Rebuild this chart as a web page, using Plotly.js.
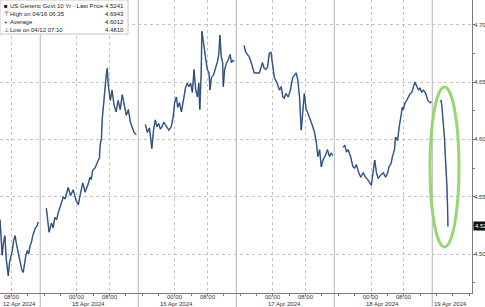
<!DOCTYPE html>
<html>
<head>
<meta charset="utf-8">
<script src="https://cdn.plot.ly/plotly-3.0.1.min.js"></script>
<style>html,body{margin:0;padding:0;background:#fff;}#chart{width:485px;height:307px;}</style>
</head>
<body>
<div id="chart"></div>
<script>
// ---- Data (US Generic Govt 10 Yr, intraday) ----
const apr12Time = ['2024-04-12 05:10','2024-04-12 05:20','2024-04-12 05:40','2024-04-12 06:00','2024-04-12 06:20','2024-04-12 06:40','2024-04-12 07:10','2024-04-12 07:30','2024-04-12 07:50','2024-04-12 08:10','2024-04-12 08:30','2024-04-12 08:50','2024-04-12 09:10','2024-04-12 09:30','2024-04-12 09:50','2024-04-12 10:10','2024-04-12 10:30','2024-04-12 10:50','2024-04-12 11:10','2024-04-12 11:30','2024-04-12 11:50','2024-04-12 12:10','2024-04-12 12:30','2024-04-12 12:50','2024-04-12 13:10','2024-04-12 13:30','2024-04-12 13:50','2024-04-12 14:10','2024-04-12 14:30'];
const apr12Yield = [4.530,4.521,4.499,4.510,4.516,4.496,4.481,4.493,4.498,4.503,4.512,4.516,4.509,4.503,4.496,4.491,4.486,4.484,4.493,4.499,4.503,4.500,4.507,4.510,4.516,4.519,4.523,4.524,4.528];

const apr15Time = ['2024-04-14 16:30','2024-04-14 16:50','2024-04-14 17:10','2024-04-14 17:45','2024-04-14 18:10','2024-04-14 18:35','2024-04-14 19:00','2024-04-14 19:25','2024-04-14 19:50','2024-04-14 20:15','2024-04-14 20:40','2024-04-14 21:05','2024-04-14 21:30','2024-04-14 21:50','2024-04-14 22:25','2024-04-14 23:05','2024-04-14 23:45','2024-04-15 00:20','2024-04-15 00:45','2024-04-15 01:05','2024-04-15 01:25','2024-04-15 02:00','2024-04-15 02:30','2024-04-15 02:50','2024-04-15 03:10','2024-04-15 03:30','2024-04-15 03:50','2024-04-15 04:25','2024-04-15 05:00','2024-04-15 05:30','2024-04-15 05:40','2024-04-15 06:00','2024-04-15 06:10','2024-04-15 06:40','2024-04-15 07:10','2024-04-15 07:25','2024-04-15 07:40','2024-04-15 08:10','2024-04-15 08:35','2024-04-15 09:05','2024-04-15 09:35','2024-04-15 10:05','2024-04-15 10:35','2024-04-15 11:05','2024-04-15 11:35','2024-04-15 12:05','2024-04-15 12:35','2024-04-15 13:05','2024-04-15 13:35','2024-04-15 14:00','2024-04-15 14:30'];
const apr15Yield = [4.540,4.528,4.519,4.527,4.523,4.532,4.530,4.536,4.541,4.547,4.550,4.548,4.554,4.558,4.551,4.556,4.547,4.543,4.551,4.556,4.562,4.554,4.558,4.562,4.567,4.565,4.573,4.575,4.580,4.584,4.595,4.601,4.617,4.639,4.656,4.662,4.647,4.634,4.643,4.630,4.624,4.634,4.626,4.639,4.630,4.621,4.626,4.615,4.610,4.606,4.604];

const apr16Time = ['2024-04-15 16:45','2024-04-15 17:15','2024-04-15 17:45','2024-04-15 18:20','2024-04-15 18:45','2024-04-15 19:10','2024-04-15 19:35','2024-04-15 20:00','2024-04-15 20:25','2024-04-15 20:50','2024-04-15 21:15','2024-04-15 21:40','2024-04-15 22:05','2024-04-15 22:30','2024-04-15 23:05','2024-04-15 23:35','2024-04-15 23:55','2024-04-16 00:20','2024-04-16 00:40','2024-04-16 01:05','2024-04-16 01:35','2024-04-16 02:10','2024-04-16 02:35','2024-04-16 03:00','2024-04-16 03:25','2024-04-16 03:50','2024-04-16 04:15','2024-04-16 04:40','2024-04-16 05:05','2024-04-16 05:30','2024-04-16 05:50','2024-04-16 06:05','2024-04-16 06:25','2024-04-16 06:35','2024-04-16 07:00','2024-04-16 07:15','2024-04-16 07:35','2024-04-16 07:55','2024-04-16 08:20','2024-04-16 08:35','2024-04-16 08:55','2024-04-16 09:25','2024-04-16 10:00','2024-04-16 10:25','2024-04-16 10:45','2024-04-16 11:00','2024-04-16 11:20','2024-04-16 11:40','2024-04-16 11:50','2024-04-16 12:10','2024-04-16 12:40','2024-04-16 13:00','2024-04-16 13:30','2024-04-16 13:50','2024-04-16 14:10','2024-04-16 14:30'];
const apr16Yield = [4.613,4.606,4.610,4.592,4.608,4.617,4.611,4.614,4.609,4.611,4.615,4.613,4.610,4.608,4.611,4.620,4.632,4.637,4.628,4.632,4.624,4.637,4.645,4.649,4.646,4.649,4.641,4.661,4.643,4.637,4.649,4.626,4.658,4.6943,4.682,4.675,4.669,4.661,4.658,4.643,4.654,4.656,4.663,4.668,4.675,4.691,4.672,4.667,4.646,4.661,4.667,4.669,4.674,4.667,4.669,4.668];

const apr17Time = ['2024-04-16 16:55','2024-04-16 17:20','2024-04-16 17:45','2024-04-16 18:10','2024-04-16 18:35','2024-04-16 19:00','2024-04-16 19:25','2024-04-16 20:05','2024-04-16 20:40','2024-04-16 21:00','2024-04-16 21:25','2024-04-16 21:50','2024-04-16 22:15','2024-04-16 22:40','2024-04-16 23:05','2024-04-16 23:30','2024-04-16 23:55','2024-04-17 00:20','2024-04-17 01:00','2024-04-17 01:35','2024-04-17 02:00','2024-04-17 02:25','2024-04-17 02:45','2024-04-17 03:10','2024-04-17 03:45','2024-04-17 04:15','2024-04-17 04:50','2024-04-17 05:15','2024-04-17 05:40','2024-04-17 06:05','2024-04-17 06:30','2024-04-17 06:55','2024-04-17 07:20','2024-04-17 07:40','2024-04-17 08:05','2024-04-17 08:35','2024-04-17 09:10','2024-04-17 09:45','2024-04-17 10:10','2024-04-17 10:35','2024-04-17 11:00','2024-04-17 11:25','2024-04-17 11:50','2024-04-17 12:15','2024-04-17 12:50','2024-04-17 13:20','2024-04-17 13:50','2024-04-17 14:15','2024-04-17 14:40'];
const apr17Yield = [4.682,4.676,4.674,4.672,4.668,4.663,4.658,4.658,4.658,4.662,4.667,4.662,4.661,4.663,4.675,4.676,4.663,4.654,4.649,4.643,4.646,4.637,4.636,4.640,4.637,4.643,4.654,4.656,4.658,4.652,4.637,4.608,4.623,4.640,4.627,4.623,4.617,4.611,4.606,4.598,4.585,4.591,4.576,4.582,4.586,4.591,4.585,4.588,4.586];

const apr18Time = ['2024-04-17 17:10','2024-04-17 17:35','2024-04-17 18:00','2024-04-17 18:25','2024-04-17 19:00','2024-04-17 19:35','2024-04-17 20:00','2024-04-17 20:25','2024-04-17 21:00','2024-04-17 21:30','2024-04-17 22:05','2024-04-17 22:40','2024-04-17 23:10','2024-04-17 23:40','2024-04-18 00:05','2024-04-18 00:30','2024-04-18 00:55','2024-04-18 01:20','2024-04-18 01:45','2024-04-18 02:25','2024-04-18 03:00','2024-04-18 03:35','2024-04-18 04:05','2024-04-18 04:25','2024-04-18 04:55','2024-04-18 05:15','2024-04-18 05:45','2024-04-18 06:00','2024-04-18 06:30','2024-04-18 06:55','2024-04-18 07:20','2024-04-18 07:40','2024-04-18 07:55','2024-04-18 08:20','2024-04-18 08:45','2024-04-18 09:10','2024-04-18 09:35','2024-04-18 10:00','2024-04-18 10:25','2024-04-18 10:45','2024-04-18 11:15','2024-04-18 11:40','2024-04-18 12:00','2024-04-18 12:25','2024-04-18 12:50','2024-04-18 13:25','2024-04-18 13:55','2024-04-18 14:30','2024-04-18 14:50'];
const apr18Yield = [4.593,4.595,4.589,4.591,4.585,4.576,4.575,4.578,4.571,4.567,4.571,4.567,4.565,4.562,4.560,4.571,4.582,4.571,4.566,4.569,4.571,4.567,4.571,4.576,4.579,4.585,4.591,4.602,4.599,4.611,4.620,4.628,4.626,4.632,4.634,4.637,4.640,4.641,4.646,4.650,4.646,4.643,4.645,4.641,4.643,4.640,4.634,4.632,4.633];

const apr19Time = ['2024-04-18 16:55','2024-04-18 17:10','2024-04-18 17:20','2024-04-18 17:30','2024-04-18 17:45','2024-04-18 18:00','2024-04-18 18:10','2024-04-18 18:15','2024-04-18 18:20','2024-04-18 18:25','2024-04-18 18:30','2024-04-18 18:35','2024-04-18 18:45','2024-04-18 18:50'];
const apr19Yield = [4.633,4.634,4.630,4.623,4.614,4.601,4.588,4.582,4.576,4.579,4.576,4.560,4.541,4.5241];

// Axis ticks and labels
const timeTickVals = ['2024-04-12 08:00','2024-04-15 00:00','2024-04-15 08:00','2024-04-16 00:00','2024-04-16 08:00','2024-04-17 00:00','2024-04-17 08:00','2024-04-18 00:00','2024-04-18 08:00'];
const timeTickText = ['08:00','00:00','08:00','00:00','08:00','00:00','08:00','00:00','08:00'];
const dayLabels = ['12 Apr 2024','15 Apr 2024','16 Apr 2024','17 Apr 2024','18 Apr 2024','19 Apr 2024'];
const dayLabelAt = ['2024-04-12 10:00','2024-04-15 02:50','2024-04-16 00:15','2024-04-17 02:50','2024-04-18 02:50','2024-04-18 19:35'];
const sessionStarts = ['2024-04-14 15:00','2024-04-15 15:00','2024-04-16 15:00','2024-04-17 15:00','2024-04-18 15:00'];
const yTickVals = [4.50,4.55,4.60,4.65,4.70];
const yTickText = ['4.50','4.55','4.60','4.65','4.70'];

const legendRows = ['US Generic Govt 10 Yr - Last Price','High on 04/16 06:35','Average','Low on 04/12 07:10'];
const legendSymbols = ['■','⊤','+','⊥'];
const legendValues = ['4.5241','4.6943','4.6012','4.4810'];
const lastPrice = '4.5241';

// ---- Build ----
const sessions = [[apr12Time,apr12Yield],[apr15Time,apr15Yield],[apr16Time,apr16Yield],[apr17Time,apr17Yield],[apr18Time,apr18Yield],[apr19Time,apr19Yield]];
const X = [], Y = [];
sessions.forEach((s,i)=>{ if(i>0){X.push(null);Y.push(null);} X.push(...s[0]); Y.push(...s[1]); });

const FONT = 'Liberation Sans, Arial, sans-serif';
const W = 472, H = 293; // plot area px
const px = v => v / W, py = v => 1 - v / H;

const traces = [
  {x:X, y:Y, type:'scatter', mode:'lines', connectgaps:false, line:{color:'#5a88c4', width:1.5}, hoverinfo:'skip'},
  {x:X, y:Y, type:'scatter', mode:'lines', connectgaps:false, line:{color:'#17243b', width:0.6}, hoverinfo:'skip'}
];

const shapes = sessionStarts.map(t => ({type:'line', xref:'x', yref:'paper', x0:t, x1:t, y0:-0.05, y1:1, line:{color:'#b4b4b4', width:1}, layer:'below'}));
shapes.push({type:'rect', xref:'paper', yref:'paper', x0:px(0), x1:px(128), y0:py(0), y1:py(34), fillcolor:'#ffffff', line:{color:'#c8c8c8', width:1}, layer:'above'});
shapes.push({type:'circle', xref:'paper', yref:'paper', x0:px(430), x1:px(459), y0:py(247), y1:py(87), line:{color:'#98d672', width:3}, layer:'above'});

const annotations = [];
legendRows.forEach((t,i)=>{
  const yy = py(6.5 + i*7.8);
  annotations.push({xref:'paper', yref:'paper', x:px(1.5), y:yy, xanchor:'left', yanchor:'middle', showarrow:false, text:legendSymbols[i], font:{family:FONT, size:6, color:'#111'}});
  annotations.push({xref:'paper', yref:'paper', x:px(8), y:yy, xanchor:'left', yanchor:'middle', showarrow:false, text:t, font:{family:FONT, size:6, color:'#222'}});
  annotations.push({xref:'paper', yref:'paper', x:px(126), y:yy, xanchor:'right', yanchor:'middle', showarrow:false, text:legendValues[i], font:{family:FONT, size:6, color:'#222'}});
});
timeTickVals.forEach((t,i)=>{
  annotations.push({xref:'x', yref:'paper', x:t, y:py(297.5), xanchor:'center', yanchor:'middle', showarrow:false, text:timeTickText[i], font:{family:FONT, size:6, color:'#333'}});
});
dayLabels.forEach((t,i)=>{
  annotations.push({xref:'x', yref:'paper', x:dayLabelAt[i], y:py(303.8), xanchor:'center', yanchor:'middle', showarrow:false, text:t, font:{family:FONT, size:6, color:'#333'}});
});
annotations.push({xref:'paper', yref:'y', x:1, xshift:1, y:4.5241, xanchor:'left', yanchor:'middle', showarrow:false, text:lastPrice, bgcolor:'#111', borderpad:1, font:{family:FONT, size:6, color:'#fff'}});

const layout = {
  width:485, height:307,
  margin:{l:0, r:13, t:0, b:14, pad:0},
  paper_bgcolor:'#ffffff', plot_bgcolor:'#ffffff',
  showlegend:false,
  font:{family:FONT, size:6, color:'#333'},
  xaxis:{
    type:'date',
    range:['2024-04-12 05:09','2024-04-19 00:44'],
    rangebreaks:[{bounds:['2024-04-12 15:00','2024-04-14 15:00']}],
    tickmode:'array', tickvals:timeTickVals, ticktext:timeTickText,
    showticklabels:false,
    showgrid:true, gridcolor:'#c4c4c4', griddash:'dot', gridwidth:1,
    showline:true, linecolor:'#7a7a7a', linewidth:1,
    ticks:'outside', ticklen:2, tickcolor:'#7a7a7a',
    minor:{ticks:'outside', ticklen:2, tickcolor:'#7a7a7a', dtick:4*3600*1000, tick0:'2024-04-12 00:00', showgrid:false},
    zeroline:false, fixedrange:true
  },
  yaxis:{
    side:'right',
    range:[4.466, 4.7216],
    tickmode:'array', tickvals:yTickVals, ticktext:yTickText,
    showgrid:true, gridcolor:'#c4c4c4', griddash:'dot', gridwidth:1,
    showline:true, linecolor:'#7a7a7a', linewidth:1,
    ticks:'outside', ticklen:2, tickcolor:'#7a7a7a',
    ticklabelstandoff:-2,
    tickfont:{family:FONT, size:5.8, color:'#333'},
    minor:{ticks:'outside', ticklen:2, tickcolor:'#7a7a7a', dtick:0.025, tick0:4.5, showgrid:false},
    zeroline:false, fixedrange:true
  },
  shapes:shapes,
  annotations:annotations
};

Plotly.newPlot('chart', traces, layout, {displayModeBar:false, staticPlot:true});
</script>
</body>
</html>
